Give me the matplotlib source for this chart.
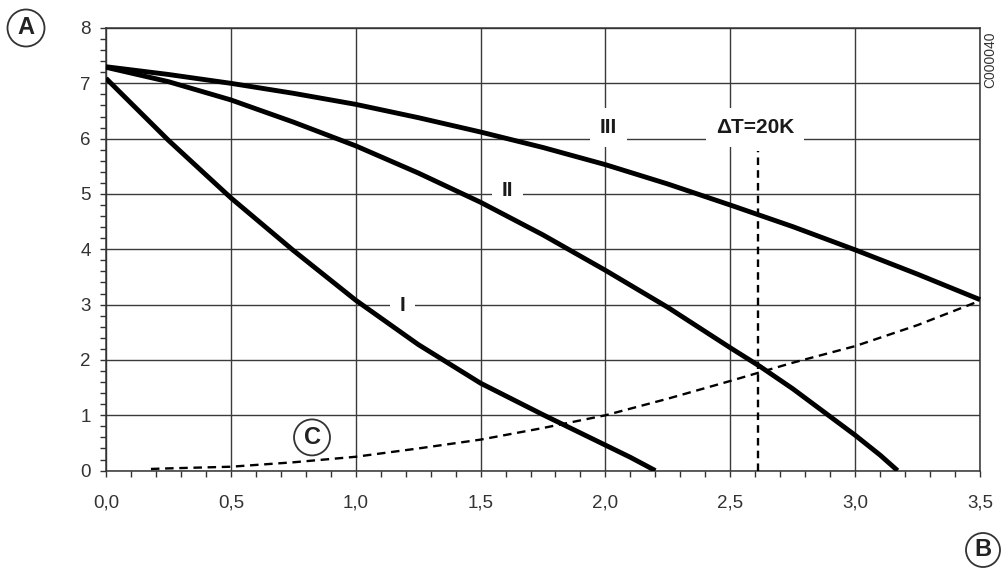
import matplotlib
matplotlib.use("Agg")
import numpy as np
import matplotlib.pyplot as plt
from matplotlib.ticker import MultipleLocator, FuncFormatter
from matplotlib.patches import Ellipse

plt.rcParams['font.family'] = ['Liberation Sans', 'DejaVu Sans']

# pump curves (flow vs head)
x_I = [0.0, 0.25, 0.5, 0.75, 1.0, 1.25, 1.5, 1.75, 2.0, 2.1, 2.2]
y_I = [7.09, 5.97, 4.93, 3.98, 3.08, 2.28, 1.58, 1.01, 0.46, 0.24, 0.0]

x_II = [0.0, 0.25, 0.5, 0.75, 1.0, 1.25, 1.5, 1.75, 2.0, 2.25, 2.5, 2.62, 2.75, 3.0, 3.1, 3.17]
y_II = [7.29, 7.03, 6.70, 6.30, 5.87, 5.38, 4.85, 4.26, 3.62, 2.95, 2.22, 1.88, 1.48, 0.64, 0.28, 0.0]

x_III = [0.0, 0.25, 0.5, 0.75, 1.0, 1.25, 1.5, 1.75, 2.0, 2.25, 2.5, 2.75, 3.0, 3.25, 3.5]
y_III = [7.30, 7.16, 7.00, 6.82, 6.62, 6.38, 6.12, 5.84, 5.53, 5.18, 4.80, 4.41, 3.99, 3.55, 3.09]

# system curve C
x_C = [0.18, 0.25, 0.5, 0.75, 1.0, 1.25, 1.5, 1.75, 2.0, 2.25, 2.5, 2.75, 3.0, 3.25, 3.5]
y_C = [0.03, 0.04, 0.07, 0.15, 0.25, 0.40, 0.56, 0.77, 1.0, 1.3, 1.62, 1.95, 2.25, 2.63, 3.07]

dT_x = 2.61
dT_top = 5.77

curve_labels = [('III', 2.012, 6.2), ('II', 1.607, 5.06), ('I', 1.187, 2.98), ('\u0394T=20K', 2.60, 6.2)]

fig = plt.figure(figsize=(10.03, 5.70), dpi=100)
ax = fig.add_axes([106 / 1003, 1 - 470.6 / 570, 874 / 1003, 442.6 / 570])

ax.set_xlim(0, 3.5)
ax.set_ylim(0, 8)

ax.xaxis.set_major_locator(MultipleLocator(0.5))
ax.xaxis.set_minor_locator(MultipleLocator(0.1))
ax.yaxis.set_major_locator(MultipleLocator(1))
ax.yaxis.set_minor_locator(MultipleLocator(0.2))
ax.xaxis.set_major_formatter(FuncFormatter(lambda v, p: ('%.1f' % v).replace('.', ',')))
ax.yaxis.set_major_formatter(FuncFormatter(lambda v, p: '%d' % v))

ax.grid(True, which='major', color='#3a3a3a', lw=1.0, zorder=0)
ax.set_axisbelow(True)
ax.tick_params(which='both', direction='out', length=4, width=1, color='#333333')
ax.tick_params(which='major', labelsize=13.5, colors='#333333', labelcolor='#333333')
ax.tick_params(axis='x', which='major', pad=13)
ax.tick_params(axis='y', which='major', pad=7)
for s in ax.spines.values():
    s.set_linewidth(1.1)
    s.set_color('#333333')

ax.plot(x_I, y_I, color='black', lw=3.5, solid_capstyle='butt', solid_joinstyle='round', zorder=4)
ax.plot(x_II, y_II, color='black', lw=3.5, solid_capstyle='butt', solid_joinstyle='round', zorder=4)
ax.plot(x_III, y_III, color='black', lw=3.5, solid_capstyle='butt', solid_joinstyle='round',
        clip_on=False, zorder=4)
ax.plot(x_C, y_C, color='black', lw=1.7, ls=(0, (3.6, 2.4)), zorder=4)
ax.plot([dT_x, dT_x], [0, dT_top], color='black', lw=1.7, ls=(0, (3.2, 2.2)), zorder=4)

for txt, lx, ly in curve_labels:
    ax.text(lx, ly, txt, ha='center', va='center', fontsize=15, fontweight='bold',
            color='#1a1a1a',
            bbox=dict(facecolor='white', edgecolor='none', pad=7), zorder=3)

# circled C marker
ax.add_patch(Ellipse((0.825, 0.60), 36 / 250, 36 / 55.3, facecolor='white',
                     edgecolor='#333333', lw=1.3, zorder=5))
ax.text(0.825, 0.60, 'C', ha='center', va='center', fontsize=17, fontweight='bold',
        color='#222222', zorder=6)

# circled axis markers A and B
for letter, px, py, d in [('A', 26, 28, 37), ('B', 983, 550, 34)]:
    fig.patches.append(Ellipse((px / 1003, 1 - py / 570), d / 1003, d / 570,
                               transform=fig.transFigure, facecolor='white',
                               edgecolor='#333333', lw=1.3))
    fig.text(px / 1003, 1 - py / 570, letter, ha='center', va='center',
             fontsize=17, fontweight='bold', color='#222222')

fig.text(990 / 1003, 1 - 60 / 570, 'C000040', ha='center', va='center',
         fontsize=10, rotation=90, color='#333333')

fig.savefig('out.png', dpi=100)
